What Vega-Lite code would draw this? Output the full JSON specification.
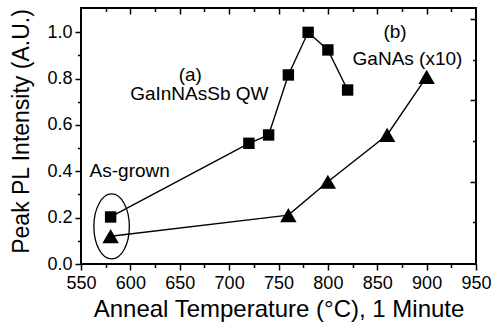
{
  "$schema": "https://vega.github.io/schema/vega-lite/v6.json",
  "width": 395,
  "height": 256,
  "autosize": {"type": "none"},
  "padding": {"left": 81, "top": 8, "right": 17, "bottom": 63},
  "background": "white",
  "datasets": {
    "pl": [
      {"sample": "a", "temp": 580, "pl": 0.203},
      {"sample": "a", "temp": 720, "pl": 0.521},
      {"sample": "a", "temp": 740, "pl": 0.557},
      {"sample": "a", "temp": 760, "pl": 0.816},
      {"sample": "a", "temp": 780, "pl": 1.0},
      {"sample": "a", "temp": 800, "pl": 0.924},
      {"sample": "a", "temp": 820, "pl": 0.751},
      {"sample": "b", "temp": 580, "pl": 0.12},
      {"sample": "b", "temp": 760, "pl": 0.211},
      {"sample": "b", "temp": 800, "pl": 0.355},
      {"sample": "b", "temp": 860, "pl": 0.557},
      {"sample": "b", "temp": 900, "pl": 0.808}
    ],
    "notes": [
      {"temp": 660.7, "pl": 0.791, "label": "(a)"},
      {"temp": 669.8, "pl": 0.708, "label": "GaInNAsSb QW"},
      {"temp": 868, "pl": 0.974, "label": "(b)"},
      {"temp": 880.6, "pl": 0.859, "label": "GaNAs (x10)"},
      {"temp": 599.3, "pl": 0.377, "label": "As-grown"}
    ],
    "oval": [
      {"temp": 581, "pl": 0.162}
    ]
  },
  "resolve": {"axis": {"x": "independent", "y": "independent"}},
  "layer": [
    {
      "data": {"name": "pl"},
      "mark": {"type": "line", "color": "black", "strokeWidth": 1.4},
      "encoding": {
        "x": {
          "field": "temp", "type": "quantitative",
          "scale": {"domain": [550, 950], "nice": false, "zero": false},
          "axis": {
            "orient": "bottom",
            "values": [550, 600, 650, 700, 750, 800, 850, 900, 950],
            "tickSize": 6, "labelPadding": 4, "labelFlush": false, "labelOverlap": false,
            "title": "Anneal Temperature (°C), 1 Minute",
            "titleFontSize": 24,
            "titleBaseline": "alphabetic", "titleY": 52.7
          }
        },
        "y": {
          "field": "pl", "type": "quantitative",
          "scale": {"domain": [0, 1.105], "nice": false, "zero": false},
          "axis": {
            "orient": "left",
            "values": [0, 0.2, 0.4, 0.6, 0.8, 1.0],
            "format": ".1f",
            "tickSize": 6, "labelPadding": 3, "labelFlush": false, "labelOverlap": false,
            "title": "Peak PL Intensity (A.U.)",
            "titleFontSize": 23,
            "titleAngle": -90, "titleBaseline": "alphabetic", "titleAlign": "center",
            "titleX": -52.7, "titleY": 123
          }
        },
        "detail": {"field": "sample", "type": "nominal"}
      }
    },
    {
      "data": {"name": "pl"},
      "mark": {"type": "point", "filled": true, "color": "black", "opacity": 1},
      "encoding": {
        "x": {
          "field": "temp", "type": "quantitative",
          "scale": {"domain": [550, 950], "nice": false, "zero": false},
          "axis": {
            "orient": "bottom",
            "values": [575, 625, 675, 725, 775, 825, 875, 925],
            "tickSize": 3.5, "labels": false, "title": null
          }
        },
        "y": {
          "field": "pl", "type": "quantitative",
          "scale": {"domain": [0, 1.105], "nice": false, "zero": false},
          "axis": {
            "orient": "left",
            "values": [0.1, 0.3, 0.5, 0.7, 0.9],
            "tickSize": 3.5, "labels": false, "title": null
          }
        },
        "shape": {
          "field": "sample", "type": "nominal",
          "scale": {"domain": ["a", "b"], "range": ["square", "triangle-up"]},
          "legend": null
        },
        "size": {
          "field": "sample", "type": "ordinal",
          "scale": {"domain": ["a", "b"], "range": [130, 270]},
          "legend": null
        }
      }
    },
    {
      "data": {"name": "notes"},
      "mark": {"type": "text", "font": "Liberation Sans", "fontSize": 19, "color": "black", "align": "center", "baseline": "alphabetic"},
      "encoding": {
        "x": {
          "field": "temp", "type": "quantitative",
          "scale": {"domain": [550, 950], "nice": false, "zero": false},
          "axis": {
            "orient": "top",
            "values": [600, 650, 700, 750, 800, 850, 900],
            "tickSize": -6, "labels": false, "title": null
          }
        },
        "y": {
          "field": "pl", "type": "quantitative",
          "scale": {"domain": [0, 1.105], "nice": false, "zero": false},
          "axis": {
            "orient": "right",
            "values": [0.355, 0.708, 1.056],
            "tickSize": -6, "labels": false, "title": null
          }
        },
        "text": {"field": "label", "type": "nominal"}
      }
    },
    {
      "data": {"name": "oval"},
      "mark": {
        "type": "point", "filled": false, "color": "black", "strokeWidth": 1.3, "opacity": 1,
        "shape": "M -0.546 0 A 0.546 1 0 1 0 0.546 0 A 0.546 1 0 1 0 -0.546 0 Z",
        "size": 4225
      },
      "encoding": {
        "x": {
          "field": "temp", "type": "quantitative",
          "scale": {"domain": [550, 950], "nice": false, "zero": false},
          "axis": {
            "orient": "top",
            "values": [575, 625, 675, 725, 775, 825, 875, 925],
            "tickSize": -3.5, "labels": false, "title": null
          }
        },
        "y": {
          "field": "pl", "type": "quantitative",
          "scale": {"domain": [0, 1.105], "nice": false, "zero": false},
          "axis": {
            "orient": "right",
            "values": [0.18, 0.53, 0.88],
            "tickSize": -3.5, "labels": false, "title": null
          }
        }
      }
    }
  ],
  "config": {
    "view": {"stroke": "black", "strokeWidth": 2},
    "axis": {
      "grid": false,
      "domain": false,
      "tickColor": "black",
      "tickWidth": 1.5,
      "labelColor": "black",
      "labelFont": "Liberation Sans",
      "labelFontSize": 18,
      "titleFont": "Liberation Sans",
      "titleFontSize": 22,
      "titleFontWeight": "normal",
      "titleColor": "black"
    }
  }
}
